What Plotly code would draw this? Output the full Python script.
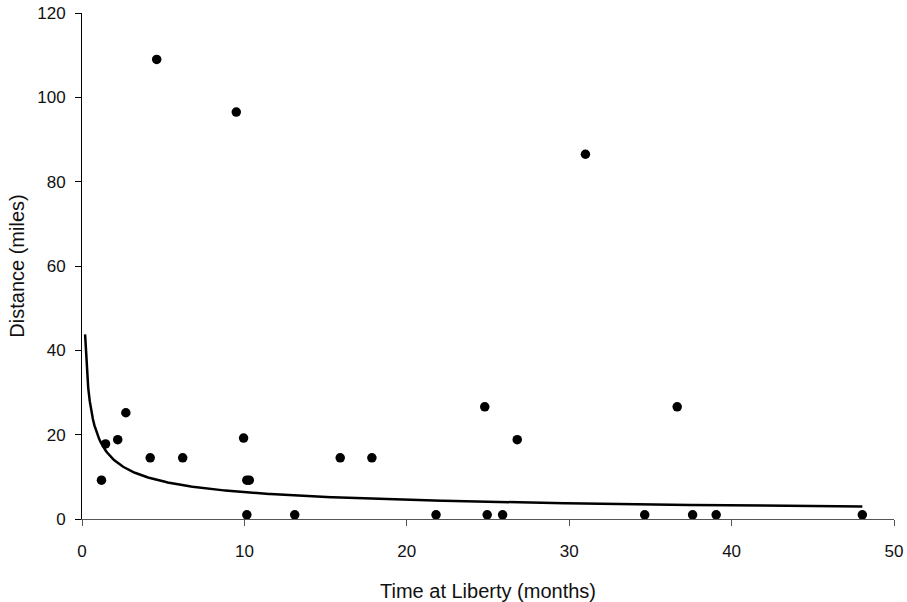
import numpy as np
import plotly.graph_objects as go

# Data
months = [4.6, 9.5, 31.0, 24.8, 36.65, 26.8, 1.2, 1.45, 2.2, 2.7, 4.2, 6.2, 9.95,
          10.15, 10.3, 10.15, 13.1, 15.9, 17.85, 21.8, 24.95, 25.9, 34.65, 37.6, 39.05, 48.05]
miles = [109.0, 96.5, 86.5, 26.6, 26.6, 18.8, 9.2, 17.8, 18.8, 25.2, 14.5, 14.5, 19.2,
         9.2, 9.2, 1.0, 1.0, 14.5, 14.5, 1.0, 1.0, 1.0, 1.0, 1.0, 1.0, 1.0]

x_ticks = [0, 10, 20, 30, 40, 50]
y_ticks = [0, 20, 40, 60, 80, 100, 120]

# Power trendline y = a * x^b, coefficients
trend_a = 19.5
trend_b = -0.487
trend_x_start = 0.19
trend_x_end = 48.05
xt = np.linspace(trend_x_start, trend_x_end, 500)
yt = trend_a * xt ** trend_b

font = dict(family="Liberation Sans, Arial, sans-serif", size=17, color="#111")

fig = go.Figure()
fig.add_trace(go.Scatter(x=xt, y=yt, mode="lines",
                         line=dict(color="black", width=2.5), hoverinfo="skip"))
fig.add_trace(go.Scatter(x=months, y=miles, mode="markers",
                         marker=dict(color="black", size=9.5)))

fig.update_layout(
    width=907, height=602,
    margin=dict(l=82, r=13, t=12.5, b=82.5),
    paper_bgcolor="white", plot_bgcolor="white",
    showlegend=False, font=font,
    xaxis=dict(range=[0, 50], tickvals=x_ticks, showgrid=False, zeroline=False,
               showline=True, linecolor="#555", linewidth=1,
               ticks="outside", ticklen=6, tickcolor="#555",
               ticklabelstandoff=11, automargin=False,
               title=dict(text="Time at Liberty (months)", standoff=24)),
    yaxis=dict(range=[0, 120], tickvals=y_ticks, showgrid=False, zeroline=False,
               showline=True, linecolor="black", linewidth=1,
               ticks="outside", ticklen=6, tickcolor="black",
               ticklabelstandoff=6, automargin=False,
               title=dict(text="Distance (miles)", standoff=7)),
)

fig.write_html("out.html", config={"displayModeBar": False},
               post_script="document.body.style.margin='0';")
